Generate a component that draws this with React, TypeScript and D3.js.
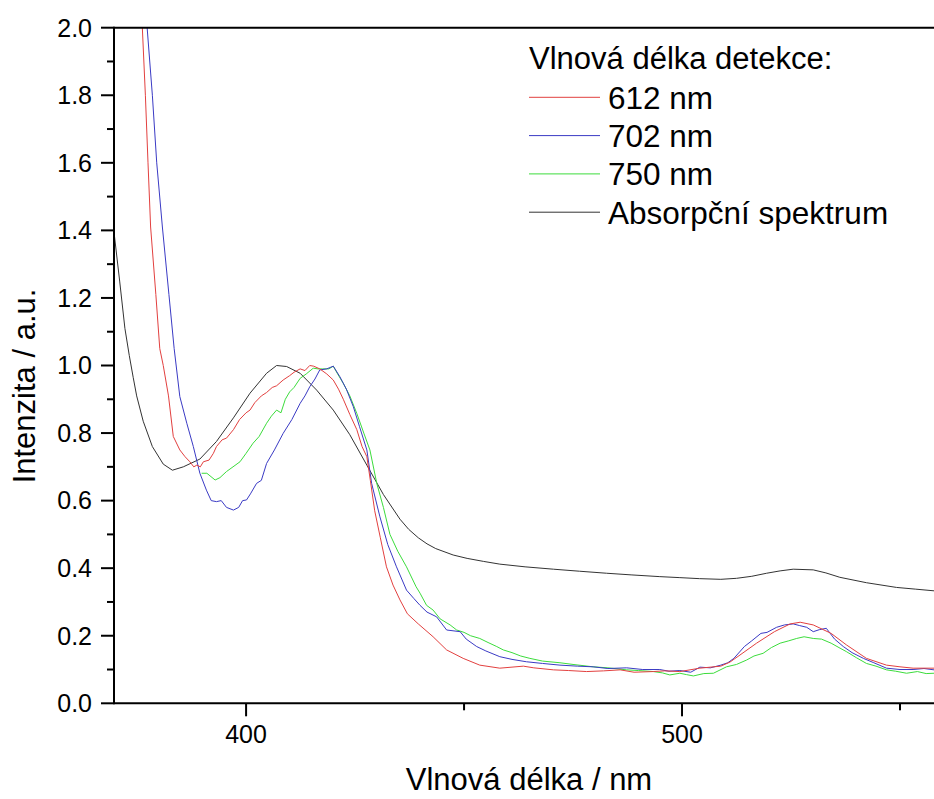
import React from "react";
import * as d3 from "d3";

// Wavelength (nm) / normalised intensity pairs for each excitation spectrum
const det612: [number, number][] = [
  [375.5, 2.15], [376.2, 2.0], [376.9, 1.8], [377.5, 1.6], [378.1, 1.41], [379.3, 1.21], [380.2, 1.05],
  [381.0, 1.0], [382.2, 0.91], [383.3, 0.79], [384.8, 0.75], [386.0, 0.73], [387.1, 0.715], [388.0, 0.7],
  [388.7, 0.705], [389.5, 0.7], [390.2, 0.715], [391.5, 0.72], [392.5, 0.74], [393.2, 0.76], [394.5, 0.78],
  [395.5, 0.785], [397.1, 0.81], [398.5, 0.84], [400.0, 0.86], [400.9, 0.868], [402.0, 0.89], [403.5, 0.91],
  [404.7, 0.92], [406.0, 0.935], [407.0, 0.94], [408.5, 0.957], [410.0, 0.97], [411.0, 0.98], [412.4, 0.99],
  [413.5, 0.985], [414.6, 1.0], [415.5, 0.998], [416.9, 0.99], [418.5, 0.975], [420.0, 0.957], [421.2, 0.93],
  [422.3, 0.9], [423.8, 0.855], [425.4, 0.81], [426.6, 0.76], [427.7, 0.73], [428.5, 0.66], [429.5, 0.57],
  [430.8, 0.49], [432.2, 0.404], [433.7, 0.35], [435.3, 0.306], [437.0, 0.265], [439.5, 0.235], [442.9, 0.197],
  [446.0, 0.158], [449.8, 0.133], [453.6, 0.113], [458.2, 0.104], [463.6, 0.11], [466.0, 0.105], [470.5, 0.099],
  [474.0, 0.097], [478.1, 0.094], [482.0, 0.096], [485.8, 0.099], [489.0, 0.092], [493.4, 0.094], [496.0, 0.096],
  [499.5, 0.094], [504.1, 0.104], [508.9, 0.11], [511.0, 0.122], [513.3, 0.143], [517.1, 0.178], [521.2, 0.212],
  [524.8, 0.235], [527.1, 0.24], [530.1, 0.232], [534.2, 0.207], [537.7, 0.173], [542.3, 0.133], [546.9, 0.113],
  [550.0, 0.108], [553.0, 0.104], [557.8, 0.104],
];

const det702: [number, number][] = [
  [376.8, 2.1], [377.3, 2.0], [378.5, 1.8], [379.5, 1.6], [380.8, 1.41], [382.3, 1.21], [383.5, 1.05],
  [384.8, 0.908], [386.4, 0.829], [387.9, 0.76], [389.4, 0.681], [390.9, 0.631], [392.0, 0.6], [393.2, 0.597],
  [394.3, 0.6], [395.5, 0.58], [397.1, 0.572], [398.3, 0.58], [399.2, 0.6], [400.1, 0.602], [401.0, 0.62],
  [402.4, 0.651], [403.5, 0.66], [404.7, 0.71], [406.5, 0.75], [408.5, 0.799], [410.5, 0.84], [412.4, 0.888],
  [413.5, 0.91], [414.6, 0.937], [415.8, 0.96], [416.9, 0.987], [418.5, 0.99], [420.0, 0.998], [421.5, 0.967],
  [423.0, 0.93], [424.6, 0.878], [426.0, 0.82], [427.7, 0.75], [428.8, 0.651], [430.7, 0.552], [432.5, 0.47],
  [434.5, 0.404], [436.8, 0.335], [438.5, 0.31], [439.9, 0.29], [441.5, 0.27], [443.7, 0.256], [446.0, 0.217],
  [449.1, 0.212], [450.5, 0.19], [452.9, 0.168], [455.0, 0.155], [458.2, 0.138], [461.0, 0.13], [464.3, 0.123],
  [468.0, 0.118], [472.0, 0.113], [476.0, 0.11], [479.6, 0.108], [483.0, 0.103], [487.3, 0.105], [491.0, 0.1],
  [494.9, 0.1], [497.0, 0.095], [499.5, 0.097], [502.0, 0.092], [504.1, 0.107], [506.5, 0.105], [508.9, 0.113],
  [510.5, 0.12], [511.9, 0.133], [514.3, 0.168], [516.0, 0.185], [518.1, 0.207], [519.5, 0.21], [521.7, 0.225],
  [523.5, 0.232], [525.5, 0.235], [527.0, 0.23], [528.6, 0.225], [530.1, 0.212], [531.5, 0.218], [533.1, 0.222],
  [535.0, 0.19], [537.0, 0.168], [539.0, 0.15], [541.6, 0.133], [544.0, 0.12], [546.9, 0.104], [550.0, 0.1],
  [553.0, 0.1], [555.5, 0.103], [557.8, 0.099],
];

const det750: [number, number][] = [
  [389.8, 0.681], [391.0, 0.681], [392.9, 0.661], [394.0, 0.668], [395.5, 0.686], [397.0, 0.7], [398.6, 0.715],
  [400.0, 0.74], [401.6, 0.77], [403.0, 0.79], [404.7, 0.829], [405.8, 0.85], [407.0, 0.868], [408.0, 0.86],
  [409.0, 0.9], [410.0, 0.922], [411.0, 0.935], [412.4, 0.962], [413.8, 0.975], [415.4, 0.992], [416.5, 0.99],
  [417.5, 0.99], [419.0, 0.99], [420.0, 0.998], [421.0, 0.975], [422.3, 0.947], [423.8, 0.91], [425.4, 0.858],
  [427.0, 0.8], [428.4, 0.75], [430.0, 0.65], [431.5, 0.58], [433.0, 0.5], [434.8, 0.45], [436.8, 0.404],
  [439.0, 0.345], [439.9, 0.326], [441.4, 0.29], [442.9, 0.276], [444.5, 0.25], [446.8, 0.232], [448.3, 0.217],
  [450.0, 0.21], [451.5, 0.2], [453.6, 0.192], [455.5, 0.18], [457.5, 0.168], [459.0, 0.158], [461.0, 0.15],
  [463.0, 0.14], [465.1, 0.133], [468.0, 0.125], [472.0, 0.12], [475.0, 0.115], [479.6, 0.108], [483.0, 0.105],
  [487.3, 0.099], [490.0, 0.097], [493.4, 0.094], [495.5, 0.09], [497.2, 0.084], [499.5, 0.089], [501.0, 0.085],
  [502.6, 0.081], [505.0, 0.088], [507.2, 0.089], [510.2, 0.108], [512.5, 0.115], [514.8, 0.128], [516.5, 0.14],
  [518.6, 0.148], [520.5, 0.165], [522.5, 0.178], [524.5, 0.185], [526.3, 0.192], [528.0, 0.197], [530.1, 0.192],
  [532.0, 0.19], [534.2, 0.178], [536.0, 0.165], [537.7, 0.153], [540.0, 0.135], [542.3, 0.118], [544.5, 0.11],
  [546.9, 0.099], [549.0, 0.095], [551.5, 0.089], [554.0, 0.094], [556.0, 0.088], [557.8, 0.089],
];

const absorption: [number, number][] = [
  [369.7, 1.395], [371.0, 1.25], [372.2, 1.11], [373.2, 1.03], [374.1, 0.965], [374.9, 0.91], [376.4, 0.835],
  [378.5, 0.76], [381.0, 0.708], [383.1, 0.69], [385.6, 0.7], [389.4, 0.723], [393.2, 0.775], [397.1, 0.845],
  [400.9, 0.918], [404.7, 0.977], [407.0, 1.0], [409.3, 0.997], [412.4, 0.977], [416.2, 0.927], [420.0, 0.868],
  [423.8, 0.795], [427.7, 0.705], [431.5, 0.618], [435.3, 0.545], [437.3, 0.515], [439.5, 0.49], [441.5, 0.472],
  [443.5, 0.458], [447.5, 0.439], [450.7, 0.429], [454.5, 0.42], [458.2, 0.412], [464.0, 0.404], [470.5, 0.397],
  [476.5, 0.391], [482.7, 0.385], [488.5, 0.38], [494.9, 0.375], [499.5, 0.372], [504.0, 0.369], [508.9, 0.367],
  [512.5, 0.37], [516.0, 0.376], [519.4, 0.385], [522.5, 0.392], [525.5, 0.397], [530.1, 0.395], [533.0, 0.386],
  [536.2, 0.373], [542.3, 0.357], [549.2, 0.343], [553.5, 0.338], [557.8, 0.333],
];

const legendTitle = "Vlnová délka detekce:";
const seriesLabels = ["612 nm", "702 nm", "750 nm", "Absorpční spektrum"];
const seriesColors = ["#e2403f", "#3a3ac4", "#3cdc3c", "#333333"];
const seriesData = [det612, det702, det750, absorption];

const yMajorTicks = [0, 0.2, 0.4, 0.6, 0.8, 1.0, 1.2, 1.4, 1.6, 1.8, 2.0];
const yMinorTicks = [0.1, 0.3, 0.5, 0.7, 0.9, 1.1, 1.3, 1.5, 1.7, 1.9];
const xMajorTicks = [400, 500];
const xMinorTicks = [450, 550];

const W = 934;
const H = 799;
const FONT = "'Liberation Sans', Arial, Helvetica, sans-serif";

export default function App() {
  const x = d3.scaleLinear().domain([369.7, 557.8]).range([114, 934]);
  const y = d3.scaleLinear().domain([0, 2]).range([703.3, 27.7]);
  const [x0, x1] = x.range();
  const [yb, yt] = y.range();

  const line = d3
    .line<[number, number]>()
    .x((d) => x(d[0]))
    .y((d) => y(d[1]));

  // draw order: absorption first, then 750, 702, 612 on top
  const drawOrder = [3, 2, 1, 0];

  return (
    <svg
      width={W}
      height={H}
      style={{ position: "absolute", left: 0, top: 0, background: "#fff" }}
      fontFamily={FONT}
    >
      <defs>
        <clipPath id="plotArea">
          <rect x={x0} y={yt} width={x1 - x0} height={yb - yt} />
        </clipPath>
      </defs>
      <rect x={0} y={0} width={W} height={H} fill="#fff" />

      <g clipPath="url(#plotArea)">
        {drawOrder.map((i) => (
          <path
            key={i}
            d={line(seriesData[i]) ?? ""}
            fill="none"
            stroke={seriesColors[i]}
            strokeWidth={1}
            strokeLinejoin="round"
          />
        ))}
      </g>

      {/* frame */}
      <line x1={x0} x2={x1} y1={yt} y2={yt} stroke="#000" strokeWidth={2} />
      <line x1={x0} x2={x1} y1={yb} y2={yb} stroke="#000" strokeWidth={2} />
      <line x1={x0} x2={x0} y1={yt - 1} y2={yb + 1} stroke="#000" strokeWidth={2} />

      {/* y axis */}
      {yMajorTicks.map((t) => (
        <g key={"ym" + t}>
          <line x1={x0 - 13} x2={x0} y1={y(t)} y2={y(t)} stroke="#000" strokeWidth={2} />
          <text x={92} y={y(t) + 8.8} fontSize={25} textAnchor="end" fill="#000">
            {t.toFixed(1)}
          </text>
        </g>
      ))}
      {yMinorTicks.map((t) => (
        <line key={"yn" + t} x1={x0 - 7} x2={x0} y1={y(t)} y2={y(t)} stroke="#000" strokeWidth={2} />
      ))}

      {/* x axis */}
      {xMajorTicks.map((t) => (
        <g key={"xm" + t}>
          <line x1={x(t)} x2={x(t)} y1={yb} y2={yb + 13} stroke="#000" strokeWidth={2} />
          <text x={x(t)} y={743} fontSize={25} textAnchor="middle" fill="#000">
            {t}
          </text>
        </g>
      ))}
      {xMinorTicks.map((t) => (
        <line key={"xn" + t} x1={x(t)} x2={x(t)} y1={yb} y2={yb + 7} stroke="#000" strokeWidth={2} />
      ))}

      {/* axis titles */}
      <text x={529} y={790} fontSize={31} textAnchor="middle" fill="#000">
        Vlnová délka / nm
      </text>
      <text
        transform={`translate(35, 386) rotate(-90)`}
        fontSize={31}
        textAnchor="middle"
        fill="#000"
      >
        Intenzita / a.u.
      </text>

      {/* legend */}
      <text x={529} y={69} fontSize={31} fill="#000">
        {legendTitle}
      </text>
      {seriesLabels.map((lab, i) => {
        const ly = 97.3 + i * 38.3;
        return (
          <g key={lab}>
            <line x1={529} x2={600} y1={ly} y2={ly} stroke={seriesColors[i]} strokeWidth={1} />
            <text x={608} y={ly + 11.5} fontSize={31.5} fill="#000">
              {lab}
            </text>
          </g>
        );
      })}
    </svg>
  );
}
